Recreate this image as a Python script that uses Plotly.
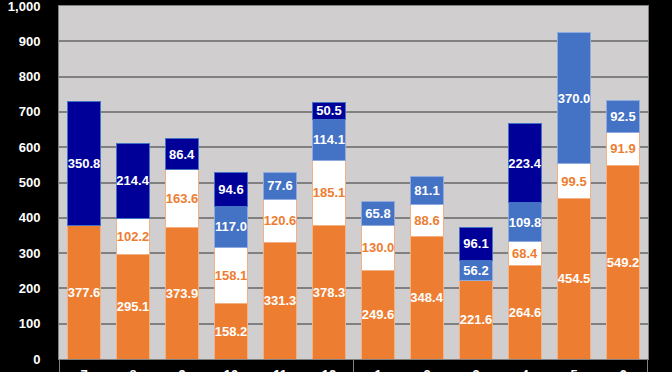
import plotly.graph_objects as go

months = ["7", "8", "9", "10", "11", "12", "1", "2", "3", "4", "5", "6"]
orange_vals = [377.6, 295.1, 373.9, 158.2, 331.3, 378.3, 249.6, 348.4, 221.6, 264.6, 454.5, 549.2]
white_vals = [None, 102.2, 163.6, 158.1, 120.6, 185.1, 130.0, 88.6, None, 68.4, 99.5, 91.9]
blue_vals = [None, None, None, 117.0, 77.6, 114.1, 65.8, 81.1, 56.2, 109.8, 370.0, 92.5]
navy_vals = [350.8, 214.4, 86.4, 94.6, None, 50.5, None, None, 96.1, 223.4, None, None]
y_ticks = [0, 100, 200, 300, 400, 500, 600, 700, 800, 900, 1000]
y_tick_labels = ["0", "100", "200", "300", "400", "500", "600", "700", "800", "900", "1,000"]

FONT = "Liberation Sans Narrow, Arial Narrow, Liberation Sans, sans-serif"

series = [
    (orange_vals, "#ED7D31", "#F4B183", "white"),
    (white_vals, "#FFFFFF", "#F4B183", "#ED7D31"),
    (blue_vals, "#4472C4", "#8FAADC", "white"),
    (navy_vals, "#000099", "#4472C4", "white"),
]

fig = go.Figure()
for vals, fill, edge, tcol in series:
    fig.add_trace(go.Bar(
        x=months, y=vals,
        marker=dict(color=fill, line=dict(color=edge, width=1)),
        texttemplate="%{y:.1f}", textposition="inside", insidetextanchor="middle",
        textangle=0, constraintext="none",
        textfont=dict(family=FONT, size=13, color=tcol, weight="bold"),
        hoverinfo="skip",
    ))

fig.update_layout(
    barmode="stack", bargap=0.33, showlegend=False,
    width=672, height=372,
    margin=dict(l=59, r=24, t=6, b=13, autoexpand=False),
    paper_bgcolor="black", plot_bgcolor="#D0CECE",
    font=dict(family=FONT, size=13, color="white"),
)
fig.update_yaxes(
    range=[0, 1000], tickvals=y_ticks, ticktext=y_tick_labels,
    showgrid=True, gridcolor="#808080", gridwidth=1.5,
    showline=True, linecolor="#808080", linewidth=1, mirror=True,
    ticks="outside", ticklen=0, ticklabelstandoff=15, automargin=False,
    ticklabeloverflow="allow",
    tickfont=dict(family=FONT, size=13, color="white", weight="bold"),
    zeroline=False,
)
fig.update_xaxes(
    showline=True, linecolor="#808080", linewidth=1, mirror=True,
    ticks="", ticklabelstandoff=3, automargin=False,
    ticklabeloverflow="allow",
    tickfont=dict(family=FONT, size=13, color="white", weight="bold"),
)
for xv in [-0.5, 5.5, 11.5]:
    fig.add_shape(type="line", xref="x", yref="paper", x0=xv, x1=xv, y0=0, y1=-0.05,
                  line=dict(color="#808080", width=1))

fig.write_html("out.html", config={"displayModeBar": False},
               post_script="document.body.style.margin='0';document.body.style.background='black';")
